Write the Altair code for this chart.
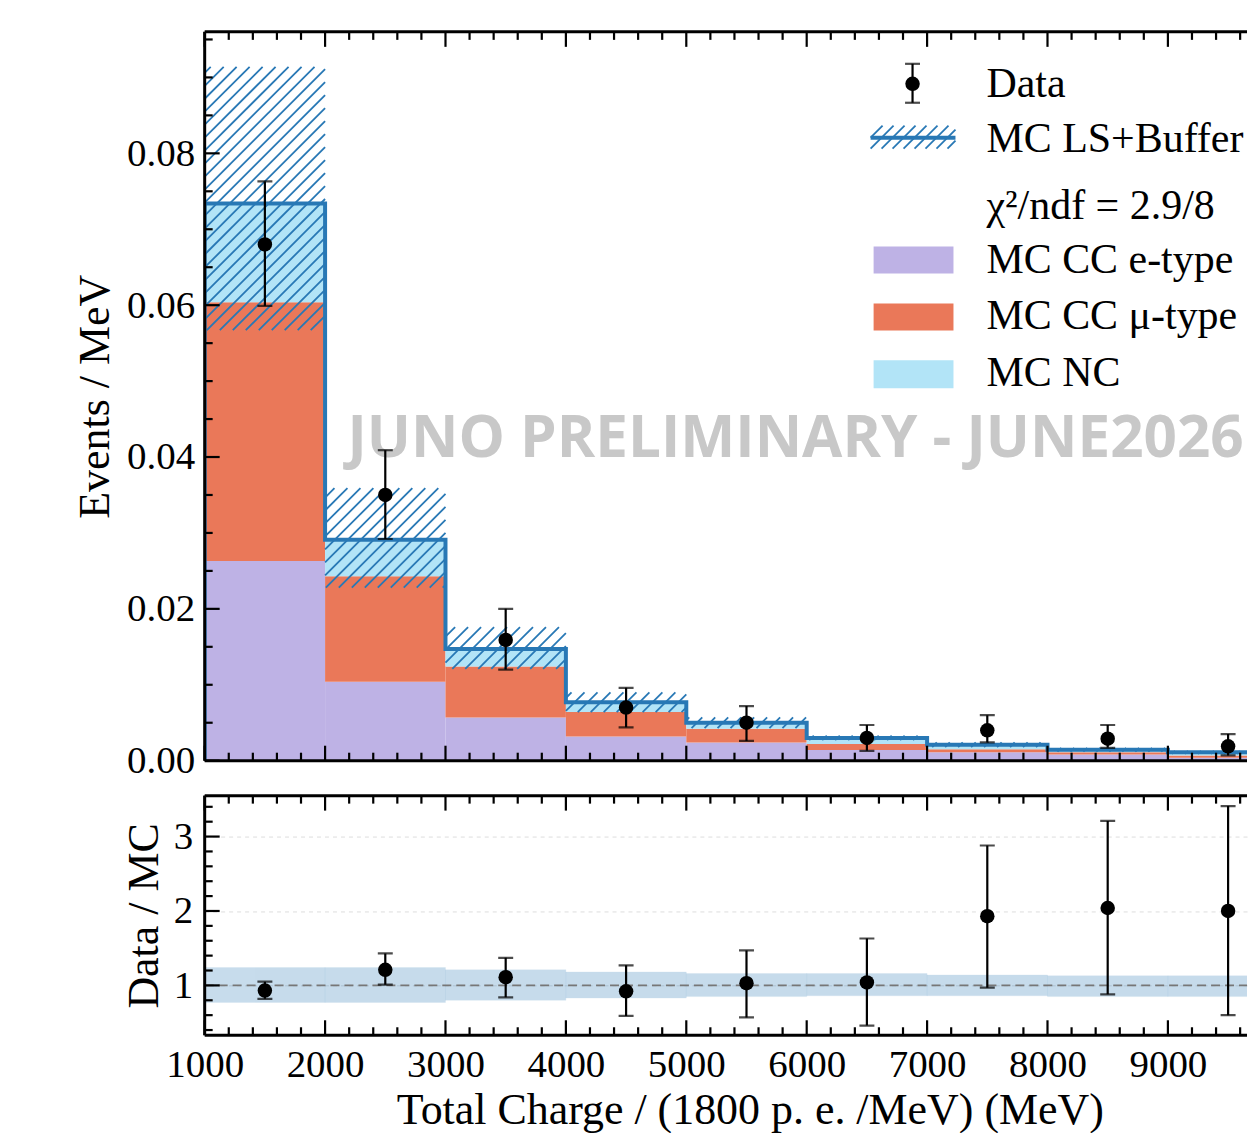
import math
import altair as alt
import pandas as pd

# ---------------- data ----------------
bin_lo = [1000, 2000, 3000, 4000, 5000, 6000, 7000, 8000, 9000]
bin_hi = [2000, 3000, 4000, 5000, 6000, 7000, 8000, 9000, 10000]
bin_center = [1500, 2500, 3500, 4500, 5500, 6500, 7500, 8500, 9500]

mc_cc_e = [0.0263, 0.0104, 0.0057, 0.0032, 0.0024, 0.0014, 0.0011, 0.0008, 0.0004]
mc_cc_mu = [0.0341, 0.0139, 0.0067, 0.0032, 0.0018, 0.0008, 0.0004, 0.0003, 0.0003]
mc_nc = [0.0130, 0.0048, 0.0023, 0.0013, 0.0008, 0.0008, 0.0006, 0.00035, 0.0004]

mc_err_hi = [0.0914, 0.0359, 0.0176, 0.0090, 0.0057, 0.0033, 0.0024, 0.0017, 0.0013]
mc_err_lo = [0.0567, 0.0228, 0.0121, 0.0064, 0.0043, 0.0027, 0.0018, 0.0012, 0.0009]

data_val = [0.0680, 0.0350, 0.0159, 0.0070, 0.0050, 0.0030, 0.0040, 0.0029, 0.0019]
data_hi = [0.0763, 0.0409, 0.0200, 0.0096, 0.0072, 0.0047, 0.0060, 0.0047, 0.0035]
data_lo = [0.0599, 0.0292, 0.0120, 0.0044, 0.0026, 0.0013, 0.0024, 0.0017, 0.0007]

ratio_val = [0.93, 1.21, 1.11, 0.92, 1.03, 1.04, 1.93, 2.04, 2.00]
ratio_hi = [1.05, 1.43, 1.37, 1.27, 1.47, 1.63, 2.88, 3.21, 3.41]
ratio_lo = [0.82, 1.01, 0.84, 0.59, 0.57, 0.46, 0.97, 0.88, 0.60]
ratio_band_hi = [1.24, 1.24, 1.21, 1.18, 1.16, 1.16, 1.14, 1.13, 1.13]
ratio_band_lo = [0.77, 0.77, 0.80, 0.83, 0.85, 0.86, 0.86, 0.85, 0.85]

x_major = [1000, 2000, 3000, 4000, 5000, 6000, 7000, 8000, 9000, 10000]
x_minor = [v for v in range(1000, 10001, 200) if v % 1000 != 0]
top_y_major = [0.0, 0.02, 0.04, 0.06, 0.08]
top_y_minor = [round(0.005 * i, 3) for i in range(1, 20) if i % 4 != 0]
bot_y_major = [1, 2, 3]
bot_y_minor = [round(0.2 * i, 1) for i in range(2, 18) if i % 5 != 0]

components = ["MC CC e-type", "MC CC \u03bc-type", "MC NC"]
comp_colors = ["#BEB2E5", "#EA7859", "#B2E4F7"]
legend_labels = ["Data", "MC LS+Buffer", "\u03c7\u00b2/ndf = 2.9/8",
                 "MC CC e-type", "MC CC \u03bc-type", "MC NC"]
watermark = "JUNO PRELIMINARY - JUNE2026"

# ---------------- style ----------------
BLUE = "#2878B5"
SERIF = "Liberation Serif"
W = 1044
H_TOP = 730
H_BOT = 240
X_DOM = [1000, 9657]          # the reference is cropped on the right
TOP_DOM = [0.0, 0.096]
BOT_DOM = [0.33, 3.55]
MAJ_LEN, MIN_LEN = 15, 8

x_major_v = [v for v in x_major if v <= X_DOM[1]]
x_minor_v = [v for v in x_minor if v <= X_DOM[1]]

xscale = alt.Scale(domain=X_DOM, nice=False, zero=False)
ytop_scale = alt.Scale(domain=TOP_DOM, nice=False, zero=False)
ybot_scale = alt.Scale(domain=BOT_DOM, nice=False, zero=False)

top_xaxis = None
top_yaxis = alt.Axis(title="Events / MeV", values=top_y_major, format=".2f",
                     ticks=False, domain=False, grid=False, labelPadding=10,
                     titlePadding=9, labelFont=SERIF, labelFontSize=39,
                     titleFont=SERIF, titleFontSize=44, titleFontWeight="normal",
                     labelColor="black", titleColor="black")
bot_xaxis = alt.Axis(title="Total Charge / (1800 p. e. /MeV) (MeV)", values=x_major_v,
                     format="d", ticks=False, domain=False, grid=False,
                     labelPadding=10, titlePadding=4, labelFont=SERIF,
                     labelFontSize=39, titleFont=SERIF, titleFontSize=44,
                     titleFontWeight="normal", labelColor="black",
                     titleColor="black", labelFlush=False,
                     titleAnchor="start", titleX=192)
bot_yaxis = alt.Axis(title="Data / MC", values=bot_y_major, format="d",
                     ticks=False, domain=False, grid=True, gridDash=[4, 4],
                     gridColor="#dddddd", gridWidth=1, labelPadding=12,
                     titlePadding=7, labelFont=SERIF, labelFontSize=39,
                     titleFont=SERIF, titleFontSize=44, titleFontWeight="normal",
                     labelColor="black", titleColor="black")


def X(field, axis):
    return alt.X(field, scale=xscale, axis=axis)


def frame_and_ticks(ys_major, ys_minor, yscale, yaxis, xaxis, h):
    layers = []
    one = pd.DataFrame({"v": [0]})
    # frame: left, top, bottom (right edge is outside the cropped view)
    fr = alt.Chart(one).mark_rule(color="black", strokeWidth=3)
    layers.append(fr.encode(x=alt.value(0), y=alt.value(0), y2=alt.value(h)))
    layers.append(fr.encode(x=alt.value(0), x2=alt.value(W), y=alt.value(0)))
    layers.append(fr.encode(x=alt.value(0), x2=alt.value(W), y=alt.value(h)))
    for vals, ln in ((x_major_v, MAJ_LEN), (x_minor_v, MIN_LEN)):
        d = pd.DataFrame({"v": vals})
        base = alt.Chart(d).mark_rule(color="black", strokeWidth=2.2)
        layers.append(base.encode(x=X("v:Q", xaxis), y=alt.value(h), y2=alt.value(h - ln)))
        layers.append(base.encode(x=X("v:Q", xaxis), y=alt.value(0), y2=alt.value(ln)))
    for vals, ln in ((ys_major, MAJ_LEN), (ys_minor, MIN_LEN)):
        d = pd.DataFrame({"v": vals})
        base = alt.Chart(d).mark_rule(color="black", strokeWidth=2.2)
        layers.append(base.encode(y=alt.Y("v:Q", scale=yscale, axis=yaxis),
                                  x=alt.value(0), x2=alt.value(ln)))
    return layers


# ---------------- top panel ----------------
rows = []
for i in range(len(bin_lo)):
    b0 = 0.0
    for comp, vals in zip(components, [mc_cc_e, mc_cc_mu, mc_nc]):
        rows.append({"comp": comp, "lo": bin_lo[i], "hi": bin_hi[i],
                     "y0": b0, "y1": b0 + vals[i]})
        b0 += vals[i]
stack_df = pd.DataFrame(rows)
totals = [a + b + c for a, b, c in zip(mc_cc_e, mc_cc_mu, mc_nc)]

stack = alt.Chart(stack_df).mark_rect(strokeWidth=0, clip=True).encode(
    x=X("lo:Q", top_xaxis), x2="hi:Q",
    y=alt.Y("y0:Q", scale=ytop_scale, axis=top_yaxis), y2="y1:Q",
    color=alt.Color("comp:N", scale=alt.Scale(domain=components, range=comp_colors),
                    legend=None),
)

# hatch lines for the MC uncertainty band (45 degrees in screen space)
sx = W / (X_DOM[1] - X_DOM[0])
sy = H_TOP / (TOP_DOM[1] - TOP_DOM[0])
SP = 13.0
hrows = []
for i in range(len(bin_lo)):
    u0, u1 = (bin_lo[i] - X_DOM[0]) * sx, (bin_hi[i] - X_DOM[0]) * sx
    v0, v1 = mc_err_lo[i] * sy, mc_err_hi[i] * sy
    k0 = math.ceil((u0 - v1) / SP)
    k1 = math.floor((u1 - v0) / SP)
    for k in range(k0, k1 + 1):
        c = k * SP
        vs, ve = max(v0, u0 - c), min(v1, u1 - c)
        if ve - vs > 0.5:
            hrows.append({"xa": X_DOM[0] + (vs + c) / sx, "ya": vs / sy,
                          "xb": X_DOM[0] + (ve + c) / sx, "yb": ve / sy})
hatch_df = pd.DataFrame(hrows)
hatch = alt.Chart(hatch_df).mark_rule(color=BLUE, strokeWidth=1.8, clip=True).encode(
    x=X("xa:Q", top_xaxis), x2="xb:Q",
    y=alt.Y("ya:Q", scale=ytop_scale, axis=top_yaxis), y2="yb:Q",
)

# step outline of the total MC
srows = [{"i": 0, "x": bin_lo[0], "y": 0.0}]
for i in range(len(bin_lo)):
    srows.append({"i": len(srows), "x": bin_lo[i], "y": totals[i]})
    srows.append({"i": len(srows), "x": bin_hi[i], "y": totals[i]})
srows.append({"i": len(srows), "x": bin_hi[-1], "y": 0.0})
step_df = pd.DataFrame(srows)
outline = alt.Chart(step_df).mark_line(color=BLUE, strokeWidth=4, strokeJoin="miter",
                                       clip=True).encode(
    x=X("x:Q", top_xaxis), y=alt.Y("y:Q", scale=ytop_scale, axis=top_yaxis), order="i:Q",
)

wm = alt.Chart(pd.DataFrame({"t": [watermark]})).mark_text(
    font="Open Sans", fontWeight="bold", fontSize=58.5, color="#C8C8C8",
    align="left", baseline="middle", clip=True,
).encode(x=alt.value(143), y=alt.value(408), text="t:N")

dat_df = pd.DataFrame({"x": bin_center, "v": data_val, "lo": data_lo, "hi": data_hi})
d_err = alt.Chart(dat_df).mark_rule(color="black", strokeWidth=2.2, clip=True).encode(
    x=X("x:Q", top_xaxis), y=alt.Y("lo:Q", scale=ytop_scale, axis=top_yaxis), y2="hi:Q")
d_cap_lo = alt.Chart(dat_df).mark_tick(color="black", orient="horizontal", size=15,
                                       thickness=2.2, clip=True).encode(
    x=X("x:Q", top_xaxis), y=alt.Y("lo:Q", scale=ytop_scale, axis=top_yaxis))
d_cap_hi = alt.Chart(dat_df).mark_tick(color="black", orient="horizontal", size=15,
                                       thickness=2.2, clip=True).encode(
    x=X("x:Q", top_xaxis), y=alt.Y("hi:Q", scale=ytop_scale, axis=top_yaxis))
d_pts = alt.Chart(dat_df).mark_circle(color="black", size=210, opacity=1, clip=True).encode(
    x=X("x:Q", top_xaxis), y=alt.Y("v:Q", scale=ytop_scale, axis=top_yaxis))

top_main = alt.layer(
    stack, hatch, outline, wm, d_err, d_cap_lo, d_cap_hi, d_pts,
    *frame_and_ticks(top_y_major, top_y_minor, ytop_scale, top_yaxis, top_xaxis, H_TOP),
)

# ---------------- legend (pixel positions inside the top panel) ----------------
LX0, LX1 = 670, 750
leg_rect_df = pd.DataFrame({
    "x0": [LX0] * 3, "x1": [LX1] * 3,
    "y0": [215, 272, 329], "y1": [242, 299, 357],
    "col": comp_colors,
})
leg_rects = alt.Chart(leg_rect_df).mark_rect().encode(
    x=alt.X("x0:Q", scale=None, axis=None), x2="x1:Q",
    y=alt.Y("y0:Q", scale=None, axis=None), y2="y1:Q",
    color=alt.Color("col:N", scale=None, legend=None),
)
bx0, bx1, by0, by1 = 667, 752, 94, 117
lh = []
for k in range(-2, 9):
    c = bx0 + k * 11.0
    ys, ye = by1, by0
    xa, xb = c, c + (by1 - by0)
    if xa < bx0:
        ys = by1 - (bx0 - c)
        xa = bx0
    if xb > bx1:
        ye = by1 - (bx1 - c)
        xb = bx1
    if xb - xa > 1:
        lh.append({"xa": xa, "ya": ys, "xb": xb, "yb": ye})
leg_hatch = alt.Chart(pd.DataFrame(lh)).mark_rule(color=BLUE, strokeWidth=1.8).encode(
    x=alt.X("xa:Q", scale=None, axis=None), x2="xb:Q",
    y=alt.Y("ya:Q", scale=None, axis=None), y2="yb:Q")
leg_line = alt.Chart(pd.DataFrame({"xa": [bx0], "xb": [bx1], "y": [106]})).mark_rule(
    color=BLUE, strokeWidth=4).encode(
    x=alt.X("xa:Q", scale=None, axis=None), x2="xb:Q",
    y=alt.Y("y:Q", scale=None, axis=None))
leg_pt_df = pd.DataFrame({"x": [709], "y": [52], "ylo": [71], "yhi": [32]})
leg_err = alt.Chart(leg_pt_df).mark_rule(color="black", strokeWidth=2.2).encode(
    x=alt.X("x:Q", scale=None, axis=None),
    y=alt.Y("yhi:Q", scale=None, axis=None), y2="ylo:Q")
leg_cap1 = alt.Chart(leg_pt_df).mark_tick(color="black", orient="horizontal", size=15,
                                          thickness=2.2).encode(
    x=alt.X("x:Q", scale=None, axis=None), y=alt.Y("yhi:Q", scale=None, axis=None))
leg_cap2 = alt.Chart(leg_pt_df).mark_tick(color="black", orient="horizontal", size=15,
                                          thickness=2.2).encode(
    x=alt.X("x:Q", scale=None, axis=None), y=alt.Y("ylo:Q", scale=None, axis=None))
leg_pt = alt.Chart(leg_pt_df).mark_circle(color="black", size=210, opacity=1).encode(
    x=alt.X("x:Q", scale=None, axis=None), y=alt.Y("y:Q", scale=None, axis=None))
leg_txt_df = pd.DataFrame({"t": legend_labels, "x": [783] * 6,
                           "y": [65, 120, 187, 242, 298, 355]})
leg_txt = alt.Chart(leg_txt_df).mark_text(
    font=SERIF, fontSize=42, color="black", align="left", baseline="alphabetic",
    clip=True,
).encode(x=alt.X("x:Q", scale=None, axis=None), y=alt.Y("y:Q", scale=None, axis=None),
         text="t:N")

legend = alt.layer(leg_hatch, leg_line, leg_rects, leg_err, leg_cap1, leg_cap2,
                   leg_pt, leg_txt)

top = alt.layer(top_main, legend).resolve_scale(
    x="independent", y="independent", color="independent"
).properties(width=W, height=H_TOP)

# ---------------- ratio panel ----------------
band_df = pd.DataFrame({"lo": bin_lo, "hi": bin_hi, "b0": ratio_band_lo, "b1": ratio_band_hi})
band = alt.Chart(band_df).mark_rect(color=BLUE, opacity=0.26, stroke=BLUE,
                                    strokeOpacity=0.25, strokeWidth=1, clip=True).encode(
    x=X("lo:Q", bot_xaxis), x2="hi:Q",
    y=alt.Y("b0:Q", scale=ybot_scale, axis=bot_yaxis), y2="b1:Q")
one_line = alt.Chart(pd.DataFrame({"v": [1]})).mark_rule(
    color="#777777", strokeWidth=1.6, strokeDash=[9, 5]).encode(
    y=alt.Y("v:Q", scale=ybot_scale, axis=bot_yaxis), x=alt.value(0), x2=alt.value(W))
rat_df = pd.DataFrame({"x": bin_center, "v": ratio_val, "lo": ratio_lo, "hi": ratio_hi})
r_err = alt.Chart(rat_df).mark_rule(color="black", strokeWidth=2.2, clip=True).encode(
    x=X("x:Q", bot_xaxis), y=alt.Y("lo:Q", scale=ybot_scale, axis=bot_yaxis), y2="hi:Q")
r_cap_lo = alt.Chart(rat_df).mark_tick(color="black", orient="horizontal", size=15,
                                       thickness=2.2, clip=True).encode(
    x=X("x:Q", bot_xaxis), y=alt.Y("lo:Q", scale=ybot_scale, axis=bot_yaxis))
r_cap_hi = alt.Chart(rat_df).mark_tick(color="black", orient="horizontal", size=15,
                                       thickness=2.2, clip=True).encode(
    x=X("x:Q", bot_xaxis), y=alt.Y("hi:Q", scale=ybot_scale, axis=bot_yaxis))
r_pts = alt.Chart(rat_df).mark_circle(color="black", size=210, opacity=1, clip=True).encode(
    x=X("x:Q", bot_xaxis), y=alt.Y("v:Q", scale=ybot_scale, axis=bot_yaxis))

bottom = alt.layer(
    band, one_line, r_err, r_cap_lo, r_cap_hi, r_pts,
    *frame_and_ticks(bot_y_major, bot_y_minor, ybot_scale, bot_yaxis, bot_xaxis, H_BOT),
).properties(width=W, height=H_BOT)

chart = alt.vconcat(top, bottom, spacing=13).properties(
    padding={"left": 65, "top": 21, "right": 0, "bottom": 0},
    background="white",
).configure_view(stroke=None)

chart.save("out.html", embed_options={"renderer": "svg", "actions": False})
